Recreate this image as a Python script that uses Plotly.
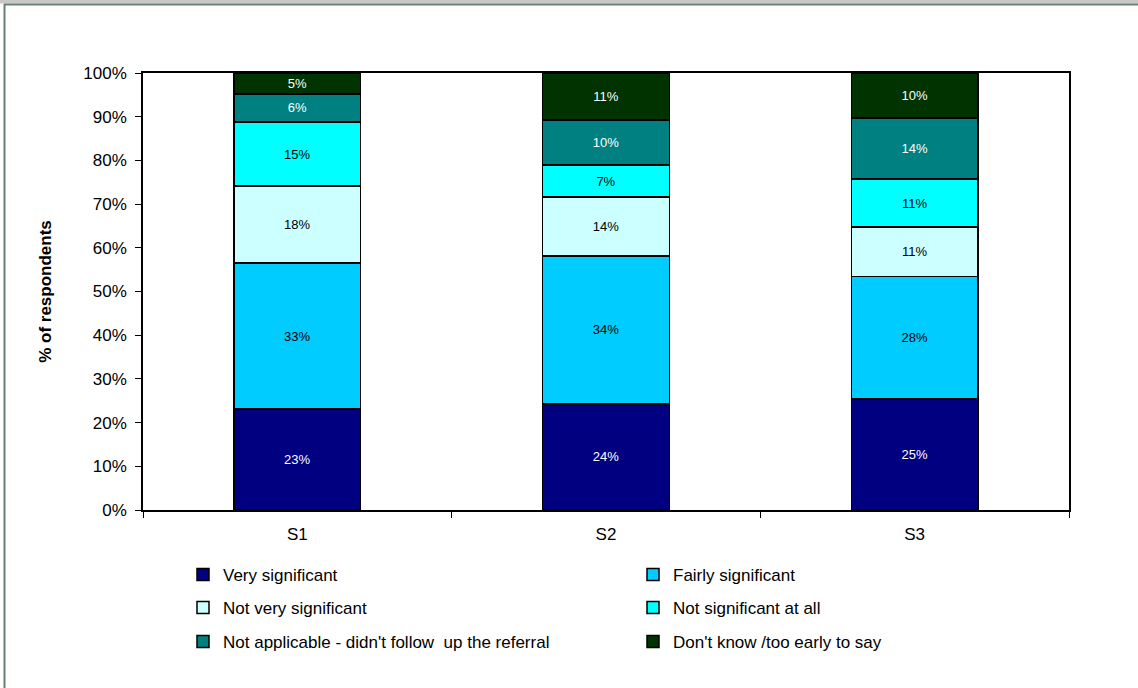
"""
Stacked 100% bar chart: significance of referral, by survey (S1, S2, S3)
"""
import plotly.graph_objs as go

surveys = ['S1', 'S2', 'S3']

very_significant = [23.1, 24.3, 25.4]
fairly_significant = [33.4, 33.8, 28.0]
not_very_significant = [17.6, 13.5, 11.4]
not_significant_at_all = [14.7, 7.3, 10.9]
not_applicable = [6.4, 10.3, 14.0]
dont_know = [4.8, 10.8, 10.3]

series = [
    ('Very significant', very_significant, '#000080', 'white', 'legend'),
    ('Fairly significant', fairly_significant, '#00CCFF', 'black', 'legend'),
    ('Not very significant', not_very_significant, '#CCFFFF', 'black', 'legend2'),
    ('Not significant at all', not_significant_at_all, '#00FFFF', 'black', 'legend2'),
    ("Not applicable - didn't follow  up the referral", not_applicable, '#008080', 'white', 'legend3'),
    ("Don't know /too early to say", dont_know, '#003300', 'white', 'legend3'),
]

FONT = 'Arial, Liberation Sans, sans-serif'

data = []
for name, vals, colour, txtcol, leg in series:
    data.append(go.Bar(
        x=surveys,
        y=vals,
        name=name,
        legend=leg,
        text=['%d%%' % round(v) for v in vals],
        textposition='inside',
        insidetextanchor='middle',
        textangle=0,
        constraintext='none',
        textfont=dict(family=FONT, size=13, color=txtcol),
        marker=dict(color=colour, line=dict(color='black', width=1.5)),
    ))

# plot area in pixels (for placing frame / legends)
W, H = 1138, 688
L, R, T, B = 143, 69, 73, 178
pw, ph = W - L - R, H - T - B


def px(x):
    return (x - L) / pw


def py(y):
    return (H - B - y) / ph


legend_common = dict(
    orientation='h', xanchor='left', yanchor='middle', x=px(183),
    entrywidth=405, entrywidthmode='pixels', traceorder='normal',
    font=dict(family=FONT, size=17, color='black'),
    bgcolor='rgba(0,0,0,0)', itemclick=False,
)

layout = go.Layout(
    width=W, height=H,
    barmode='stack',
    bargap=0.59,
    paper_bgcolor='white',
    plot_bgcolor='white',
    margin=dict(l=L, r=R, t=T, b=B),
    font=dict(family=FONT, size=17, color='black'),
    xaxis=dict(
        type='category',
        showline=True, linecolor='black', linewidth=1.5, mirror=True,
        ticks='outside', tickson='boundaries', ticklen=6, tickcolor='black',
        tickfont=dict(size=17), showgrid=False, ticklabelstandoff=8,
    ),
    yaxis=dict(
        range=[0, 100], dtick=10, ticksuffix='%',
        showline=True, linecolor='black', linewidth=1.5, mirror=True,
        ticks='outside', ticklen=6, tickcolor='black',
        tickfont=dict(size=17), showgrid=False, ticklabelstandoff=5,
        title=dict(text='<b>% of respondents</b>', font=dict(size=17), standoff=27),
    ),
    legend=dict(legend_common, y=py(575)),
    legend2=dict(legend_common, y=py(608)),
    legend3=dict(legend_common, y=py(642)),
    shapes=[
        dict(type='rect', xref='paper', yref='paper', x0=px(0), x1=px(W),
             y0=py(0), y1=py(3.5), fillcolor='#c8c8c8', line=dict(width=0), layer='below'),
        dict(type='line', xref='paper', yref='paper', x0=px(4), x1=px(W),
             y0=py(4.5), y1=py(4.5), line=dict(color='#6b8070', width=2)),
        dict(type='line', xref='paper', yref='paper', x0=px(4.5), x1=px(4.5),
             y0=py(4), y1=py(H), line=dict(color='#6b8070', width=2)),
    ],
)

fig = go.Figure(data=data, layout=layout)
fig.write_html('out.html', config={'displayModeBar': False},
               post_script="document.body.style.margin='0';document.body.style.overflow='hidden';")
